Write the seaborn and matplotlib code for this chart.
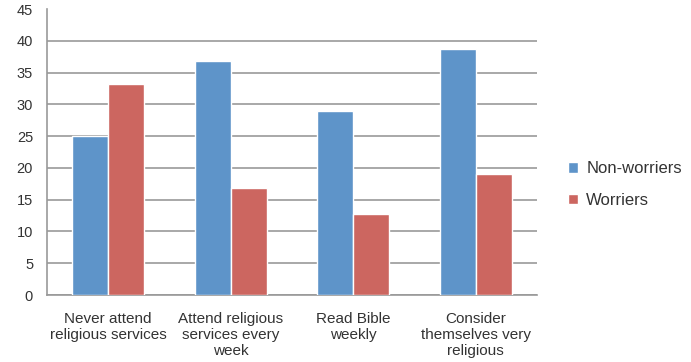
import pandas as pd
import matplotlib.pyplot as plt
import seaborn as sns
from matplotlib.patches import Patch

# Data
categories = [
    "Never attend\nreligious services",
    "Attend religious\nservices every\nweek",
    "Read Bible\nweekly",
    "Consider\nthemselves very\nreligious",
]
non_worriers = [25.0, 36.9, 29.0, 38.7]
worriers = [33.2, 16.8, 12.8, 19.1]
series = ["Non-worriers", "Worriers"]
colors = ["#5E94C9", "#CC6660"]

df = pd.DataFrame({
    "category": categories * 2,
    "value": non_worriers + worriers,
    "group": [series[0]] * 4 + [series[1]] * 4,
})

sns.set_style("white")
plt.rcParams["font.family"] = ["Liberation Sans", "DejaVu Sans"]

fig = plt.figure(figsize=(6.91, 3.62), dpi=100)
ax = fig.add_axes([0.068, 0.185, 0.709, 0.79])

sns.barplot(data=df, x="category", y="value", hue="group", palette=colors,
            width=0.59, saturation=1, ax=ax, legend=False, zorder=3)

ax.set_ylim(0, 45)
ax.set_yticks(range(0, 50, 5))
ax.set_xlim(-0.5, 3.5)
ax.yaxis.grid(True, color="#999999", linewidth=1.2, zorder=0)
ax.get_ygridlines()[-1].set_visible(False)
ax.set_axisbelow(True)
for s in ["top", "right"]:
    ax.spines[s].set_visible(False)
for s in ["left", "bottom"]:
    ax.spines[s].set_color("#999999")
    ax.spines[s].set_linewidth(1.2)
ax.tick_params(axis="y", length=4, color="#999999", labelsize=10.5, labelcolor="#333333", pad=6)
ax.tick_params(axis="x", length=0, labelsize=11, labelcolor="#333333", pad=12)
ax.set_xlabel("")
ax.set_ylabel("")

handles = [Patch(facecolor=c, label=l) for c, l in zip(colors, series)]
fig.legend(handles=handles, loc="center left", bbox_to_anchor=(0.8, 0.49),
           frameon=False, fontsize=12, handlelength=0.6, handleheight=0.6,
           handletextpad=0.5, labelspacing=1.0, labelcolor="#333333")

fig.savefig("out.png", dpi=100)
